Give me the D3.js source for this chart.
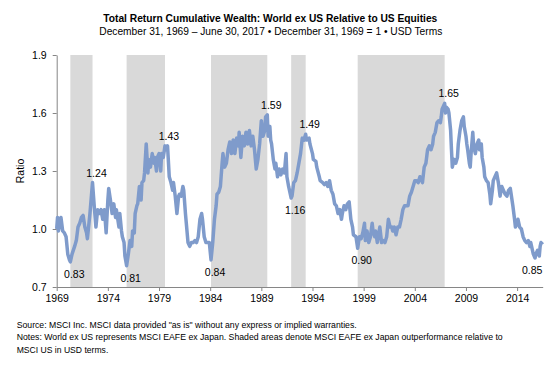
<!DOCTYPE html>
<html>
<head>
<meta charset="utf-8">
<script src="https://cdn.jsdelivr.net/npm/d3@7"></script>
<style>
  body { margin: 0; background: #fff; }
  text { font-family: "Liberation Sans", Arial, sans-serif; fill: #000; }
</style>
</head>
<body>
<div id="chart"></div>
<script>
// months since Dec 31, 1969 and the relative wealth ratio
var months = [0, 1, 2, 5, 7, 9, 11, 13, 15, 16, 18, 21, 23, 25, 27, 29, 31, 33, 35, 36, 39, 42,
  44, 46, 48, 50, 52, 54, 56, 58, 60, 61, 63, 65, 67, 69, 70, 73, 74, 76, 77, 79, 80, 82,
  84, 86, 88, 89, 91, 92, 94, 95, 97, 99, 100, 102, 103, 105, 107, 108, 110, 112, 114, 115,
  117, 118, 120, 122, 123, 125, 127, 129, 130, 132, 134, 136, 137, 139, 141, 143, 144, 146,
  148, 149, 151, 152, 154, 156, 158, 160, 162, 164, 166, 168, 170, 171, 173, 175, 177, 179,
  181, 183, 185, 187, 188, 190, 192, 194, 195, 197, 199, 201, 203, 205, 207, 209, 211, 213,
  214, 216, 218, 220, 222, 224, 226, 228, 230, 232, 234, 236, 238, 240, 242, 244, 245, 247,
  248, 250, 251, 252, 254, 256, 257, 259, 261, 263, 265, 267, 269, 270, 272, 275, 276, 278,
  280, 282, 284, 286, 288, 290, 292, 293, 296, 297, 300, 301, 304, 305, 308, 309, 312, 314,
  316, 318, 320, 322, 324, 326, 328, 330, 332, 334, 335, 337, 339, 341, 343, 345, 347, 348,
  351, 352, 353, 355, 357, 359, 361, 362, 364, 366, 368, 370, 371, 373, 374, 376, 377, 379,
  381, 383, 385, 387, 389, 391, 393, 394, 396, 398, 400, 402, 404, 406, 408, 410, 412, 414,
  416, 418, 420, 422, 424, 426, 428, 429, 431, 433, 435, 437, 439, 441, 442, 444, 446, 448,
  450, 451, 452, 455, 456, 457, 459, 460, 462, 463, 464, 466, 468, 470, 471, 473, 475, 477,
  478, 480, 481, 482, 484, 485, 486, 488, 489, 491, 493, 495, 496, 498, 499, 501, 502, 504,
  506, 508, 509, 511, 512, 514, 516, 518, 520, 522, 524, 526, 528, 530, 532, 534, 535, 537,
  538, 540, 541, 543, 545, 547, 549, 551, 553, 555, 556, 558, 559, 561, 562, 564, 566, 567,
  568, 570];
var ratio = [1.00, 1.06, 0.99, 1.06, 0.99, 0.98, 0.96, 0.87, 0.84, 0.83, 0.87, 0.91, 0.94, 1.01, 1.03, 1.06, 1.07, 1.01, 0.98, 0.95, 1.08, 1.24,
  1.12, 1.01, 1.10, 1.08, 1.10, 1.05, 1.10, 0.98, 1.15, 1.21, 1.15, 1.08, 1.13, 1.06, 1.10, 1.01, 1.08, 0.99, 0.96, 0.93, 0.86, 0.81,
  0.87, 0.94, 0.91, 0.99, 0.98, 1.08, 1.12, 1.13, 1.22, 1.15, 1.24, 1.25, 1.29, 1.44, 1.29, 1.36, 1.32, 1.39, 1.34, 1.37,
  1.30, 1.37, 1.39, 1.30, 1.39, 1.37, 1.43, 1.41, 1.43, 1.27, 1.24, 1.20, 1.24, 1.17, 1.08, 1.17, 1.18, 1.17,
  1.22, 1.20, 1.08, 1.03, 0.93, 0.91, 0.93, 0.93, 0.94, 0.93, 0.96, 1.05, 1.08, 1.05, 0.96, 0.93, 0.93, 0.93,
  0.84, 0.93, 1.05, 1.12, 1.18, 1.19, 1.22, 1.34, 1.39, 1.32, 1.34, 1.41, 1.45, 1.39, 1.46, 1.39, 1.47, 1.43,
  1.50, 1.37, 1.48, 1.43, 1.50, 1.44, 1.51, 1.43, 1.48, 1.41, 1.31, 1.36, 1.44, 1.56, 1.48, 1.51, 1.58, 1.59,
  1.48, 1.53, 1.46, 1.44, 1.36, 1.31, 1.34, 1.27, 1.31, 1.28, 1.31, 1.29, 1.39, 1.27, 1.22, 1.16, 1.17, 1.24,
  1.25, 1.29, 1.34, 1.39, 1.47, 1.46, 1.49, 1.46, 1.47, 1.44, 1.39, 1.36, 1.35, 1.32, 1.27, 1.25, 1.24, 1.23,
  1.24, 1.22, 1.25, 1.20, 1.18, 1.13, 1.12, 1.08, 1.10, 1.05, 1.08, 1.12, 1.10, 1.13, 1.14, 1.05, 1.01, 0.97,
  0.96, 0.93, 0.90, 0.96, 0.95, 0.98, 1.03, 0.94, 0.99, 0.93, 0.96, 1.03, 0.99, 0.96, 0.99, 0.93, 0.96, 1.01,
  0.93, 0.94, 0.93, 0.96, 1.05, 1.01, 1.01, 0.99, 1.01, 0.97, 1.01, 1.01, 1.05, 1.10, 1.12, 1.12, 1.12, 1.17,
  1.19, 1.22, 1.25, 1.25, 1.24, 1.27, 1.25, 1.24, 1.32, 1.34, 1.41, 1.43, 1.41, 1.44, 1.48, 1.50, 1.55, 1.56,
  1.55, 1.58, 1.62, 1.65, 1.60, 1.63, 1.62, 1.60, 1.51, 1.41, 1.32, 1.36, 1.34, 1.37, 1.44, 1.51, 1.56, 1.58,
  1.53, 1.48, 1.44, 1.41, 1.34, 1.32, 1.39, 1.50, 1.43, 1.39, 1.44, 1.46, 1.41, 1.44, 1.37, 1.32, 1.27, 1.25,
  1.24, 1.18, 1.13, 1.20, 1.25, 1.27, 1.29, 1.24, 1.17, 1.22, 1.20, 1.18, 1.17, 1.20, 1.21, 1.15, 1.12, 1.05,
  1.01, 1.03, 1.05, 1.01, 1.00, 0.96, 0.94, 0.93, 0.94, 0.91, 0.93, 0.89, 0.87, 0.85, 0.87, 0.89, 0.86, 0.91,
  0.93, 0.92];

// shaded periods (EAFE ex Japan outperformance), in months
var bandStart = [16, 82, 181, 275, 353];
var bandEnd = [42, 127, 247, 292, 455];

// labelled turning points
var markMonths = [16, 42, 82, 127, 181, 247, 275, 292, 353, 455, 561];
var markValues = [0.83, 1.24, 0.81, 1.43, 0.84, 1.59, 1.16, 1.49, 0.90, 1.65, 0.85];
var markKind = ['low', 'high', 'low', 'high', 'low', 'high', 'low', 'high', 'low', 'high', 'low'];

var yTicks = [0.7, 1.0, 1.3, 1.6, 1.9];
var xTickMonths = [0, 60, 120, 180, 240, 300, 360, 420, 480, 540];

var width = 548, height = 367;
var plotLeft = 56.7, plotRight = 542.7, plotTop = 55, plotBottom = 287;

var svg = d3.select('#chart').append('svg')
  .attr('width', width)
  .attr('height', height);

var x = d3.scaleLinear().domain([0, 570]).range([plotLeft, plotRight]);
var y = d3.scaleLinear().domain([0.7, 1.9]).range([plotBottom, plotTop]);

// title
svg.append('text')
  .attr('x', 270.3).attr('y', 22)
  .attr('text-anchor', 'middle')
  .attr('font-size', '10.5px')
  .attr('font-weight', 'bold')
  .attr('textLength', 334).attr('lengthAdjust', 'spacingAndGlyphs')
  .text('Total Return Cumulative Wealth: World ex US Relative to US Equities');
svg.append('text')
  .attr('x', 270.8).attr('y', 35)
  .attr('text-anchor', 'middle')
  .attr('font-size', '10.5px')
  .attr('textLength', 343).attr('lengthAdjust', 'spacingAndGlyphs')
  .text('December 31, 1969 \u2013 June 30, 2017 \u2022 December 31, 1969 = 1 \u2022 USD Terms');

// shaded bands
svg.append('g')
  .selectAll('rect')
  .data(bandStart)
  .enter()
  .append('rect')
  .attr('x', function (d) { return x(d); })
  .attr('y', plotTop)
  .attr('width', function (d, i) { return x(bandEnd[i]) - x(d); })
  .attr('height', plotBottom - plotTop)
  .style('fill', '#d9d9d9');

// axes
var yAxis = svg.append('g')
  .attr('transform', 'translate(' + plotLeft + ',0)')
  .call(d3.axisLeft(y).tickValues(yTicks).tickSize(4).tickSizeOuter(0).tickPadding(6).tickFormat(d3.format('.1f')));
var xAxis = svg.append('g')
  .attr('transform', 'translate(0,' + plotBottom + ')')
  .call(d3.axisBottom(x).tickValues(xTickMonths).tickSize(4).tickSizeOuter(0).tickPadding(4)
    .tickFormat(function (m) { return 1969 + m / 12; }));
[yAxis, xAxis].forEach(function (a) {
  a.select('.domain').attr('stroke', '#868686');
  a.selectAll('.tick line').attr('stroke', '#868686');
  a.selectAll('.tick text').attr('font-size', '10.5px').attr('fill', '#000')
    .style('font-family', '"Liberation Sans", Arial, sans-serif');
});

svg.append('text')
  .attr('transform', 'translate(24,171) rotate(-90)')
  .attr('text-anchor', 'middle')
  .attr('font-size', '10.5px')
  .text('Ratio');

// the line
var line = d3.line()
  .x(function (d) { return x(d); })
  .y(function (d, i) { return y(ratio[i]); });
svg.append('path')
  .datum(months)
  .attr('d', line)
  .attr('fill', 'none')
  .attr('stroke', '#7f9bcb')
  .attr('stroke-width', 3.5)
  .attr('stroke-linejoin', 'round');

// turning point labels
svg.append('g')
  .selectAll('text')
  .data(markMonths)
  .enter()
  .append('text')
  .attr('x', function (d) { return Math.min(x(d) + 4, plotRight - 10.5); })
  .attr('y', function (d, i) { return y(markValues[i]) + (markKind[i] === 'high' ? -6 : 16); })
  .attr('text-anchor', 'middle')
  .attr('font-size', '10.5px')
  .text(function (d, i) { return d3.format('.2f')(markValues[i]); });

// notes
var notes = [
  ['Source: MSCI Inc. MSCI data provided "as is" without any express or implied warranties.', 340],
  ['Notes: World ex US represents MSCI EAFE ex Japan. Shaded areas denote MSCI EAFE ex Japan outperformance relative to', 486],
  ['MSCI US in USD terms.', 91.6]
];
svg.append('g')
  .selectAll('text')
  .data(notes)
  .enter()
  .append('text')
  .attr('x', 16.7)
  .attr('y', function (d, i) { return 327.5 + i * 12.5; })
  .attr('font-size', '9px')
  .attr('textLength', function (d) { return d[1]; })
  .attr('lengthAdjust', 'spacingAndGlyphs')
  .text(function (d) { return d[0]; });
</script>
</body>
</html>
